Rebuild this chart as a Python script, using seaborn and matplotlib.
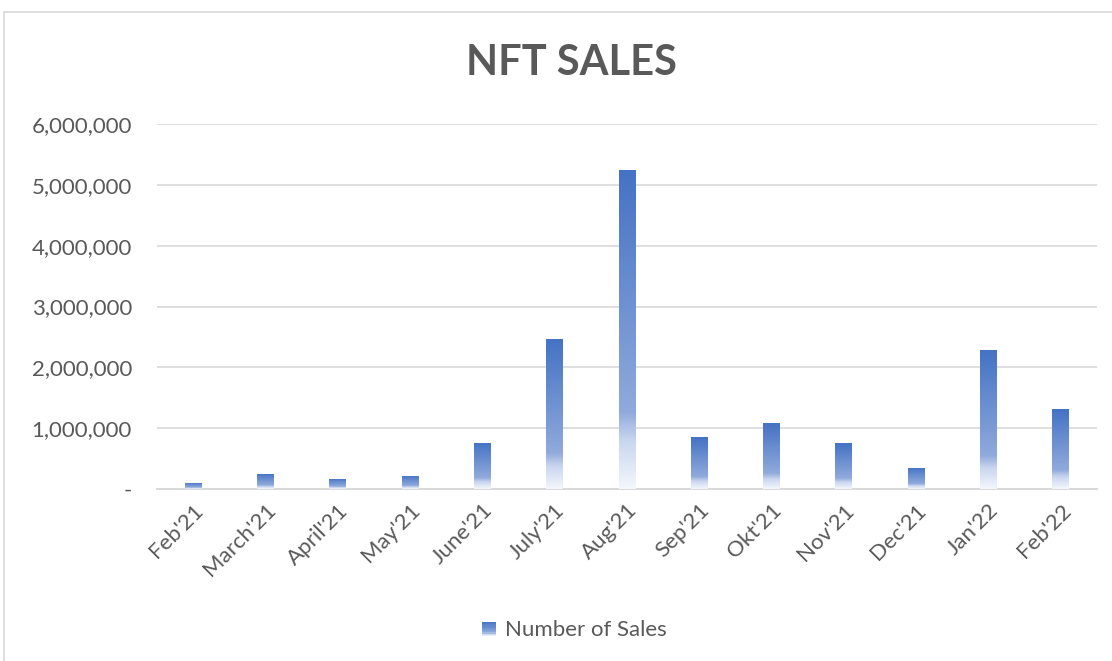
import matplotlib
matplotlib.use("Agg")
import matplotlib.pyplot as plt
import seaborn as sns
import numpy as np
import pandas as pd
from matplotlib.colors import LinearSegmentedColormap
from matplotlib.patches import Rectangle
from matplotlib.legend_handler import HandlerBase
from matplotlib.ticker import FuncFormatter

months = ["Feb'21", "March'21", "April'21", "May'21", "June'21", "July'21", "Aug'21",
          "Sep'21", "Okt'21", "Nov'21", "Dec'21", "Jan'22", "Feb'22"]
sales = [100000, 247000, 165000, 214000, 757000, 2470000, 5250000,
         850000, 1080000, 750000, 350000, 2280000, 1310000]
y_ticks = [0, 1000000, 2000000, 3000000, 4000000, 5000000, 6000000]

df = pd.DataFrame({"Month": months, "Sales": sales})

text_col = "#595959"
grid_col = "#D9D9D9"

# excel style fade: solid blue at the top, white at the base
grad = LinearSegmentedColormap.from_list(
    "fade", [(0.0, "#F4F7FC"), (0.15, "#C9D6EF"), (0.24, "#90AADC"), (1.0, "#4472C4")])

sns.set_theme(style="white")
plt.rcParams["font.family"] = ["Lato", "DejaVu Sans"]

fig = plt.figure(figsize=(11.12, 6.61), dpi=100)
ax = fig.add_axes([0.1412, 0.2602, 0.8453, 0.5522])

sns.barplot(data=df, x="Month", y="Sales", color="#4472C4", width=0.235, ax=ax,
            label="Number of Sales", legend=False)

ramp = np.linspace(0, 1, 256).reshape(-1, 1)
for bar in ax.patches:
    x0, y0 = bar.get_x(), bar.get_y()
    w, h = bar.get_width(), bar.get_height()
    bar.set_facecolor("none")
    bar.set_edgecolor("none")
    im = ax.imshow(ramp, cmap=grad, origin="lower", aspect="auto",
                   extent=[x0, x0 + w, y0, y0 + h], zorder=3, interpolation="bilinear")
    im.set_clip_path(bar)

ax.set_ylim(0, 6000000)
ax.set_xlim(-0.5, len(months) - 0.5)

ax.set_yticks(y_ticks)
ax.yaxis.set_major_formatter(FuncFormatter(lambda v, p: "-" if v == 0 else f"{int(v):,}"))
ax.grid(axis="y", color=grid_col, linewidth=1.2)
ax.set_axisbelow(True)
for s in ["top", "right", "left"]:
    ax.spines[s].set_visible(False)
ax.spines["bottom"].set_color(grid_col)
ax.spines["bottom"].set_linewidth(1.4)

ax.tick_params(axis="y", length=0, pad=18, labelsize=16, labelcolor=text_col)
ax.tick_params(axis="x", length=0, pad=8, labelsize=16, labelcolor=text_col)
plt.setp(ax.get_xticklabels(), rotation=45, ha="right", rotation_mode="anchor")
ax.set_xlabel("")
ax.set_ylabel("")

fig.text(0.5135, 0.904, "NFT SALES", ha="center", va="center", fontsize=30,
         fontweight="bold", color=text_col)


class GradientHandler(HandlerBase):
    def create_artists(self, legend, orig_handle, xdescent, ydescent, width, height, fontsize, trans):
        size = height * 0.9
        x = xdescent + width - size - 2
        strips = []
        n = 12
        for i in range(n):
            strips.append(Rectangle((x, -ydescent + size * i / n), size, size / n,
                                    facecolor=grad((i + 0.5) / n), edgecolor="none",
                                    transform=trans))
        return strips


fig.legend([Rectangle((0, 0), 1, 1)], ["Number of Sales"], loc="center",
           bbox_to_anchor=(0.514, 0.047), frameon=False, fontsize=16,
           labelcolor=text_col, handler_map={Rectangle: GradientHandler()},
           handlelength=1.0, handletextpad=0.3)

# chart area border
fig.add_artist(plt.Line2D([0.0036, 0.0036], [0, 0.982], color=grid_col, linewidth=1.2,
                          transform=fig.transFigure))
fig.add_artist(plt.Line2D([0.0036, 1.0], [0.982, 0.982], color=grid_col, linewidth=1.2,
                          transform=fig.transFigure))

fig.savefig("out.png", dpi=100)
